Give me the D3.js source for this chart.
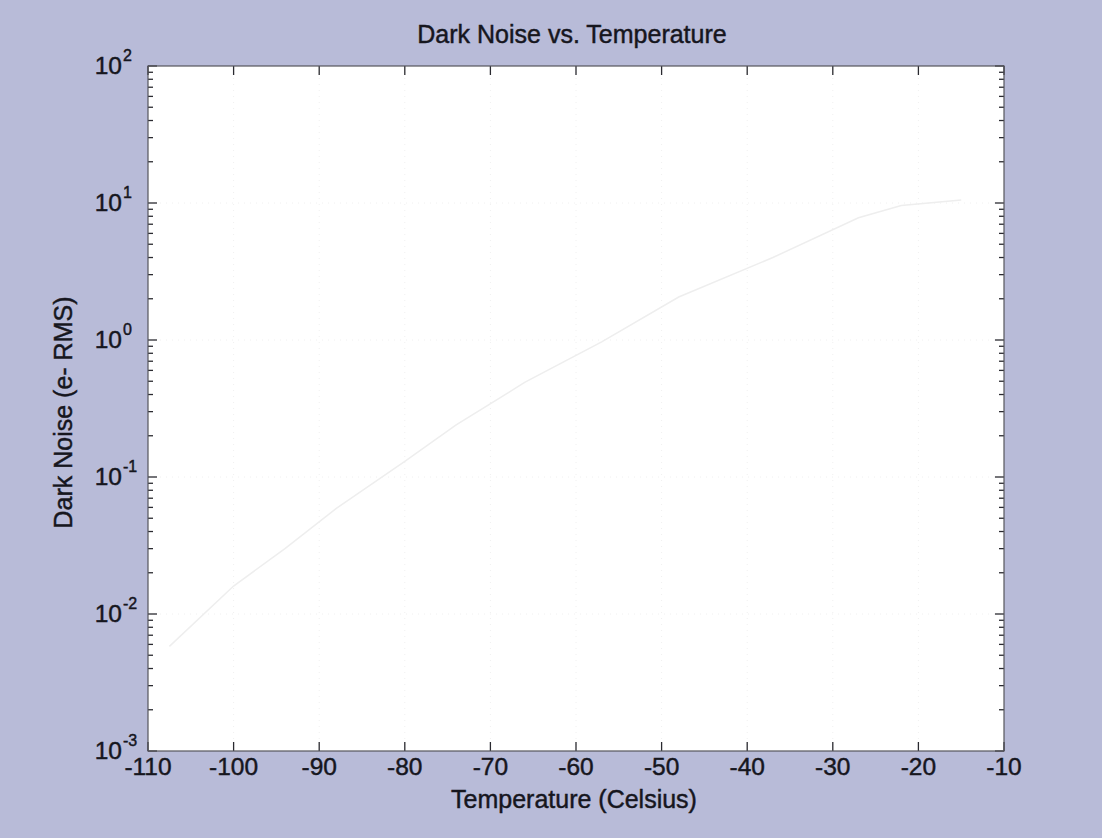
<!DOCTYPE html>
<html>
<head>
<meta charset="utf-8">
<script src="https://cdn.jsdelivr.net/npm/d3@7"></script>
<style>
  html, body { margin: 0; padding: 0; background: #b8bbd8; }
  svg { display: block; }
  text { font-family: "Liberation Sans", Arial, Helvetica, sans-serif; fill: #16161e; stroke: #16161e; stroke-width: 0.45px; }
</style>
</head>
<body>
<svg id="chart" width="1102" height="838"></svg>
<script>
// Measured dark noise (e- RMS) against sensor temperature (°C)
const temperature = [-107.5, -100, -94, -88, -80, -74, -66, -57, -48, -37, -27, -22, -15];
const darkNoise   = [0.0058, 0.016, 0.030, 0.059, 0.13, 0.24, 0.49, 0.97, 2.06, 4.0, 7.8, 9.6, 10.5];

// Axis ticks
const xTicks = [-110, -100, -90, -80, -70, -60, -50, -40, -30, -20, -10];
const yDecades = [-3, -2, -1, 0, 1, 2];

const svg = d3.select("#chart");
const W = 1102, H = 838;
const plot = { left: 148, right: 1004, top: 66, bottom: 751 };

const x = d3.scaleLinear().domain([-110, -10]).range([plot.left, plot.right]);
const y = d3.scaleLog().domain([1e-3, 1e2]).range([plot.bottom, plot.top]);

// figure background
svg.append("rect").attr("width", W).attr("height", H).attr("fill", "#b8bbd8");

// axes area
svg.append("rect")
  .attr("x", plot.left).attr("y", plot.top)
  .attr("width", plot.right - plot.left).attr("height", plot.bottom - plot.top)
  .attr("fill", "#ffffff");

// dotted grid
const grid = svg.append("g").attr("stroke", "#f0f0f0").attr("stroke-width", 1).attr("stroke-dasharray", "1,5");
grid.selectAll("line.gx").data(xTicks.slice(1, -1)).join("line")
  .attr("x1", d => x(d)).attr("x2", d => x(d))
  .attr("y1", plot.top).attr("y2", plot.bottom);
grid.selectAll("line.gy").data(yDecades.slice(1, -1)).join("line")
  .attr("x1", plot.left).attr("x2", plot.right)
  .attr("y1", d => y(Math.pow(10, d))).attr("y2", d => y(Math.pow(10, d)));

// data curve
const line = d3.line().x((d, i) => x(temperature[i])).y(d => y(d));
svg.append("path")
  .datum(darkNoise)
  .attr("d", line)
  .attr("fill", "none")
  .attr("stroke", "#eeeeee")
  .attr("stroke-width", 1.5);

// tick marks, drawn inward on all four sides
const ticks = svg.append("g").attr("stroke", "#2a2a30").attr("stroke-width", 1.3);
xTicks.forEach(t => {
  ticks.append("line").attr("x1", x(t)).attr("x2", x(t)).attr("y1", plot.bottom).attr("y2", plot.bottom - 9);
  ticks.append("line").attr("x1", x(t)).attr("x2", x(t)).attr("y1", plot.top).attr("y2", plot.top + 9);
});
yDecades.forEach(e => {
  const base = Math.pow(10, e);
  const yy = y(base);
  ticks.append("line").attr("x1", plot.left).attr("x2", plot.left + 9).attr("y1", yy).attr("y2", yy);
  ticks.append("line").attr("x1", plot.right).attr("x2", plot.right - 9).attr("y1", yy).attr("y2", yy);
  if (e < 2) {
    for (let m = 2; m <= 9; m++) {
      const ym = y(base * m);
      ticks.append("line").attr("x1", plot.left).attr("x2", plot.left + 5).attr("y1", ym).attr("y2", ym);
      ticks.append("line").attr("x1", plot.right).attr("x2", plot.right - 5).attr("y1", ym).attr("y2", ym);
    }
  }
});

// axes frame
svg.append("rect")
  .attr("x", plot.left).attr("y", plot.top)
  .attr("width", plot.right - plot.left).attr("height", plot.bottom - plot.top)
  .attr("fill", "none").attr("stroke", "#55555c").attr("stroke-width", 1.2);

// x tick labels
svg.append("g").selectAll("text").data(xTicks).join("text")
  .attr("x", d => x(d)).attr("y", plot.bottom + 24)
  .attr("text-anchor", "middle").attr("font-size", 24.5)
  .text(d => d);

// y tick labels: 10 with a raised exponent
const yl = svg.append("g");
yDecades.forEach(e => {
  const yy = y(Math.pow(10, e));
  yl.append("text").attr("x", 122).attr("y", yy + 8)
    .attr("text-anchor", "end").attr("font-size", 24.5).text("10");
  yl.append("text").attr("x", 123).attr("y", yy - 5)
    .attr("text-anchor", "start").attr("font-size", 16).text(e);
});

// title and axis labels
svg.append("text").attr("x", 572).attr("y", 43)
  .attr("text-anchor", "middle").attr("font-size", 25)
  .text("Dark Noise vs. Temperature");
svg.append("text").attr("x", 574).attr("y", 808)
  .attr("text-anchor", "middle").attr("font-size", 25)
  .text("Temperature (Celsius)");
svg.append("text")
  .attr("transform", `translate(72, ${(plot.top + plot.bottom) / 2 + 4}) rotate(-90)`)
  .attr("text-anchor", "middle").attr("font-size", 25)
  .text("Dark Noise (e- RMS)");
</script>
</body>
</html>
